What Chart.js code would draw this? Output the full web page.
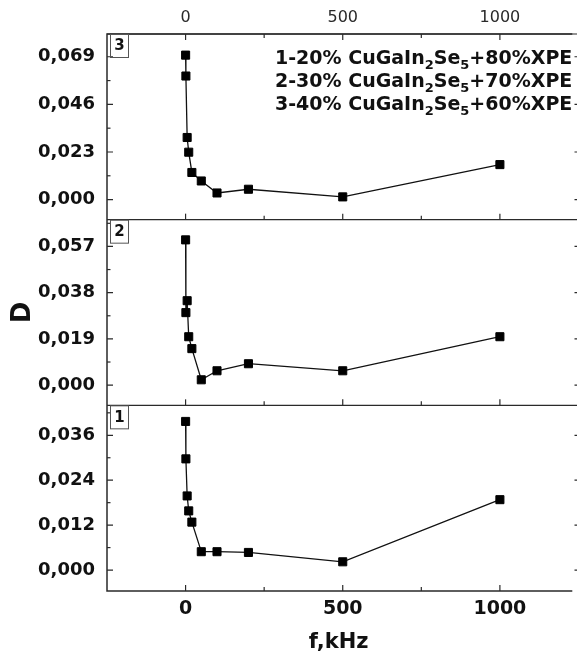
<!DOCTYPE html>
<html><head><meta charset="utf-8">
<script src="https://cdn.jsdelivr.net/npm/chart.js@4/dist/chart.umd.min.js"></script>
<style>
html,body{margin:0;padding:0;background:#fff;overflow:hidden;}
canvas{display:block;}
</style></head><body>
<canvas id="c" width="577" height="655"></canvas>
<script>
// ---- data ----
const freqs = [0.1, 1, 5, 10, 20, 50, 100, 200, 500, 1000];
const valuesPanel1 = [0.0397, 0.0297, 0.0198, 0.0158, 0.0128, 0.0049, 0.0049, 0.0047, 0.0022, 0.0188];
const valuesPanel2 = [0.0597, 0.0298, 0.0347, 0.0199, 0.0150, 0.0022, 0.0059, 0.0088, 0.0059, 0.0199];
const valuesPanel3 = [0.0698, 0.0597, 0.0300, 0.0229, 0.0131, 0.0090, 0.0032, 0.0050, 0.0013, 0.0169];
const xTicks = [0, 500, 1000];
const xMinorTicks = [250, 750];
const yTicksPanel1 = [0, 0.012, 0.024, 0.036];
const yTicksPanel2 = [0, 0.019, 0.038, 0.057];
const yTicksPanel3 = [0, 0.023, 0.046, 0.069];
const panelLabels = ['1', '2', '3'];
const legendLines = ['1-20% CuGaIn_2Se_5+80%XPE', '2-30% CuGaIn_2Se_5+70%XPE', '3-40% CuGaIn_2Se_5+60%XPE'];
const xTitle = 'f,kHz';
const yTitle = 'D';

const FONT = "'DejaVu Sans', sans-serif";
const fmt = v => v.toFixed(3).replace('.', ',');
const pts = vals => freqs.map((f, i) => ({x: f, y: vals[i]}));

function yScale(min, max, ticks, withTitle) {
  return {
    type: 'linear', position: 'left', stack: 'panels', stackWeight: 1,
    min: min, max: max,
    afterBuildTicks: s => { s.ticks = ticks.map(v => ({value: v})); },
    afterFit: s => { s.width = 107; },
    ticks: { callback: v => fmt(v), color: '#111', padding: 12,
             font: {family: FONT, size: 18, weight: 'bold'} },
    grid: { display: false, drawTicks: false },
    border: { display: false },
    title: { display: withTitle, text: yTitle, color: '#111',
             font: {family: FONT, size: 26, weight: 'bold'}, padding: {top: 8, bottom: 0} }
  };
}

function ds(vals, axis) {
  return {
    data: pts(vals), xAxisID: 'x', yAxisID: axis,
    borderColor: '#111', borderWidth: 1.3, backgroundColor: '#000',
    pointStyle: 'rect', pointRadius: 5.7, pointBorderColor: '#000', pointBorderWidth: 1,
    tension: 0, fill: false
  };
}

const framePlugin = {
  id: 'frame',
  afterDatasetsDraw(chart) {
    const ctx = chart.ctx, ca = chart.chartArea, xs = chart.scales.x;
    const panels = [chart.scales.y1, chart.scales.y2, chart.scales.y3];
    const rightEdge = chart.width;
    ctx.save();
    ctx.strokeStyle = '#2a2a2a';
    ctx.lineWidth = 1.5;
    ctx.beginPath();
    ctx.moveTo(ca.right + 2, ca.top); ctx.lineTo(ca.left, ca.top);
    ctx.lineTo(ca.left, ca.bottom); ctx.lineTo(ca.right + 2, ca.bottom);
    ctx.stroke();
    ctx.lineWidth = 1.2;
    panels.forEach((s, i) => {
      ctx.beginPath(); ctx.moveTo(ca.left, s.top); ctx.lineTo(rightEdge, s.top); ctx.stroke();
      const vals = s.ticks.map(t => t.value);
      const half = (vals[1] - vals[0]) / 2;
      const k0 = Math.ceil(s.min / half - 1e-6), k1 = Math.floor(s.max / half + 1e-6);
      for (let k = k0; k <= k1; k++) {
        const py = s.getPixelForValue(k * half);
        const len = (k % 2 === 0) ? 6 : 3.5;
        ctx.beginPath();
        ctx.moveTo(ca.left, py); ctx.lineTo(ca.left + len, py);
        if (k % 2 === 0) { ctx.moveTo(rightEdge, py); ctx.lineTo(rightEdge - 2.5, py); }
        ctx.stroke();
      }
      const drawX = (v, len, yb, dir) => {
        const px = xs.getPixelForValue(v);
        ctx.beginPath(); ctx.moveTo(px, yb); ctx.lineTo(px, yb + dir * len); ctx.stroke();
      };
      xTicks.forEach(v => drawX(v, 6, s.bottom, -1));
      xMinorTicks.forEach(v => drawX(v, 4, s.bottom, -1));
      if (i === 2) {
        xTicks.forEach(v => drawX(v, 6, s.top, 1));
        xMinorTicks.forEach(v => drawX(v, 4, s.top, 1));
      }
      ctx.lineWidth = 1;
      ctx.strokeStyle = '#555';
      ctx.strokeRect(ca.left + 3.5, s.top + 0.5, 18, 23);
      ctx.fillStyle = '#111';
      ctx.font = 'bold 15px ' + FONT;
      ctx.textAlign = 'center'; ctx.textBaseline = 'middle';
      ctx.fillText(panelLabels[i], ca.left + 12.5, s.top + 12.5);
      ctx.strokeStyle = '#2a2a2a';
      ctx.lineWidth = 1.2;
    });
    ctx.fillStyle = '#111';
    ctx.textAlign = 'left'; ctx.textBaseline = 'alphabetic';
    legendLines.forEach((line, li) => {
      let x = 275;
      const base = 64 + li * 23;
      line.split(/(_\d)/).forEach(p => {
        if (!p) return;
        if (p[0] === '_') {
          ctx.font = 'bold 13px ' + FONT;
          ctx.fillText(p.slice(1), x, base + 5);
          x += ctx.measureText(p.slice(1)).width;
        } else {
          ctx.font = 'bold 19px ' + FONT;
          ctx.fillText(p, x, base);
          x += ctx.measureText(p).width;
        }
      });
    });
    ctx.restore();
  }
};

new Chart(document.getElementById('c'), {
  type: 'line',
  data: { datasets: [ds(valuesPanel1, 'y1'), ds(valuesPanel2, 'y2'), ds(valuesPanel3, 'y3')] },
  options: {
    responsive: false, animation: false, devicePixelRatio: 1,
    layout: { padding: {left: 0, right: 0, top: 0, bottom: 0} },
    plugins: { legend: {display: false}, tooltip: {enabled: false} },
    scales: {
      x: {
        type: 'linear', position: 'bottom', min: -250, max: 1224,
        afterBuildTicks: s => { s.ticks = xTicks.map(v => ({value: v})); },
        afterFit: s => { s.height = 64; },
        ticks: { callback: v => String(v), color: '#111', padding: 7,
                 font: {family: FONT, size: 19, weight: 'bold'} },
        grid: { display: false, drawTicks: false }, border: { display: false },
        title: { display: true, text: xTitle, color: '#111',
                 font: {family: FONT, size: 21, weight: 'bold'}, padding: {top: 0, bottom: 0} }
      },
      x2: {
        type: 'linear', position: 'top', min: -250, max: 1224,
        afterBuildTicks: s => { s.ticks = xTicks.map(v => ({value: v})); },
        afterFit: s => { s.height = 34; },
        ticks: { callback: v => String(v), color: '#2a2a2a', padding: 7,
                 font: {family: FONT, size: 16} },
        grid: { display: false, drawTicks: false }, border: { display: false }
      },
      y1: yScale(-0.0056, 0.044, yTicksPanel1, false),
      y2: yScale(-0.0083, 0.068, yTicksPanel2, true),
      y3: yScale(-0.0097, 0.080, yTicksPanel3, false)
    }
  },
  plugins: [framePlugin]
});
</script>
</body></html>
